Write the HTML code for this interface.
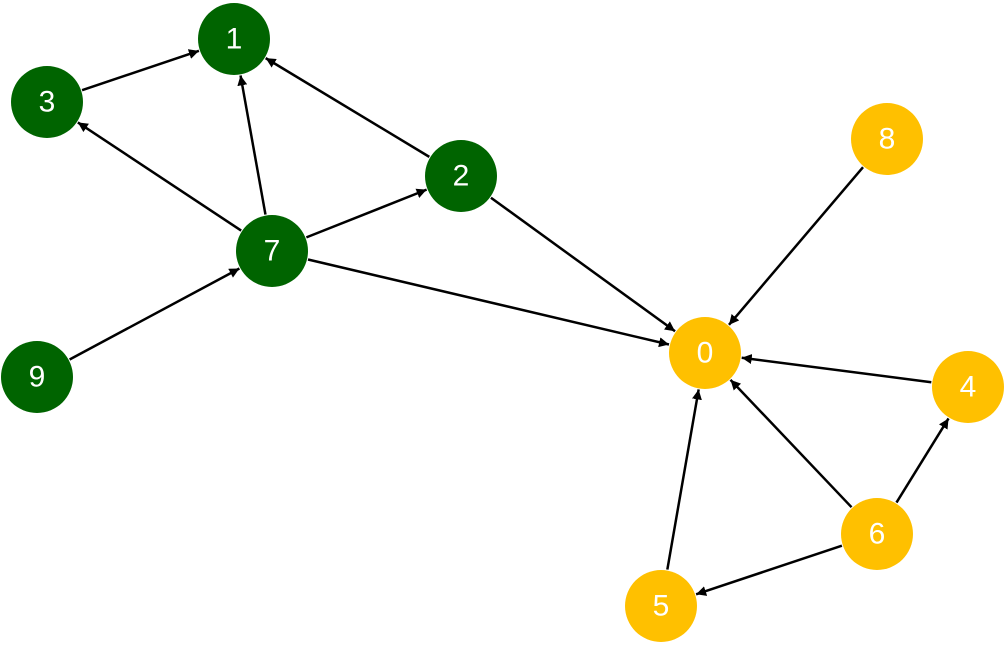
<!DOCTYPE html>
<html><head><meta charset="utf-8"><style>
html,body{margin:0;padding:0;background:#fff;}
svg{display:block}
text{font-family:"Liberation Sans",sans-serif;font-size:30px;fill:#fff;text-anchor:middle;dominant-baseline:central}
</style></head><body>
<svg id="s" width="1006" height="650" viewBox="0 0 1006 650">
<defs><marker id="a" viewBox="0 0 10 10" refX="10" refY="5" markerWidth="10" markerHeight="10" markerUnits="userSpaceOnUse" orient="auto"><path d="M0,0 L10,5 L0,10 z" fill="#000"/></marker></defs>
<g id="edges"></g>
<g fill="#006400">
<circle cx="234" cy="39" r="36"/><circle cx="47" cy="102" r="36"/><circle cx="461" cy="176" r="36"/><circle cx="272" cy="251" r="36"/><circle cx="37" cy="377" r="36"/>
</g>
<g fill="#FFC000">
<circle cx="887" cy="139" r="36"/><circle cx="705" cy="353" r="36"/><circle cx="968" cy="387" r="36"/><circle cx="877" cy="534" r="36"/><circle cx="661" cy="606" r="36"/>
</g>
<text x="234" y="39">1</text><text x="47" y="102">3</text><text x="461" y="176">2</text><text x="272" y="251">7</text><text x="37" y="377">9</text>
<text x="887" y="139">8</text><text x="705" y="353">0</text><text x="968" y="387">4</text><text x="877" y="534">6</text><text x="661" y="606">5</text>
</svg>
<script>
var P={1:[234,39],3:[47,102],2:[461,176],7:[272,251],9:[37,377],8:[887,139],0:[705,353],4:[968,387],6:[877,534],5:[661,606]};
var E=[[3,1],[2,1],[7,1],[7,3],[7,2],[9,7],[2,0],[7,0],[8,0],[4,0],[6,0],[5,0],[6,4],[6,5]];
var g=document.getElementById('edges'),r=37,s='';
E.forEach(function(e){var a=P[e[0]],b=P[e[1]],dx=b[0]-a[0],dy=b[1]-a[1],d=Math.hypot(dx,dy),ux=dx/d,uy=dy/d;
s+='<line x1="'+(a[0]+ux*r)+'" y1="'+(a[1]+uy*r)+'" x2="'+(b[0]-ux*r)+'" y2="'+(b[1]-uy*r)+'" stroke="#000" stroke-width="2.5" marker-end="url(#a)"/>';});
g.innerHTML=s;
</script>
</body></html>
